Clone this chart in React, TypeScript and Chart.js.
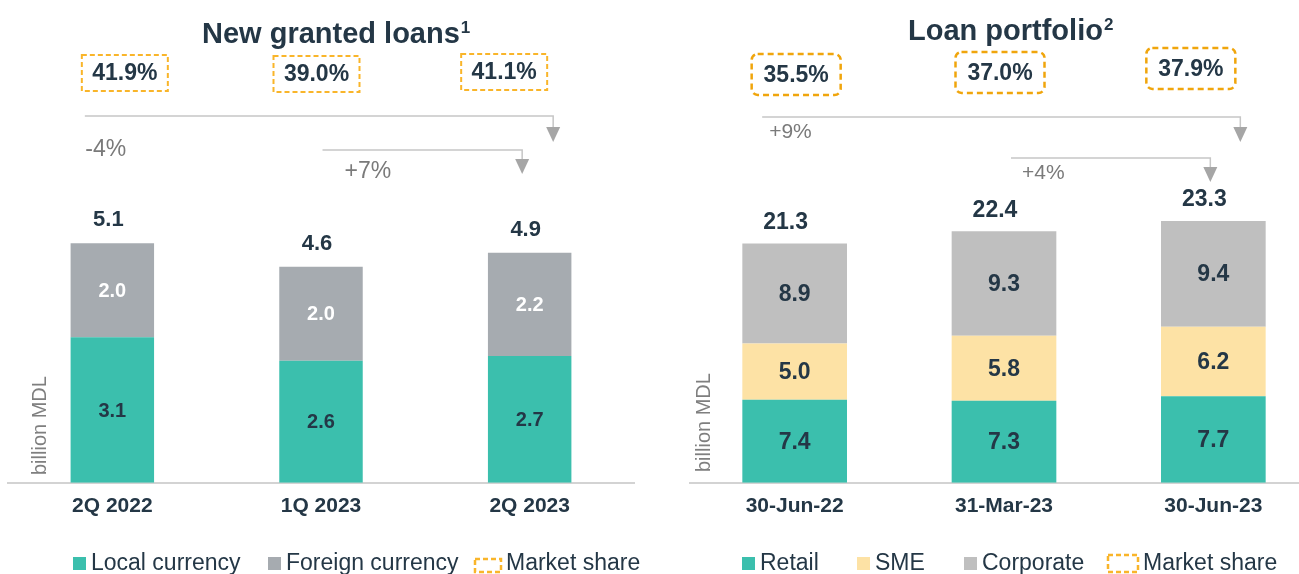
import React, { useEffect, useRef } from "react";
import { Chart, registerables } from "chart.js";

Chart.register(...registerables);

// ---------- DATA ----------
const newLoanCategories = ["2Q 2022", "1Q 2023", "2Q 2023"];
const localCurrency = [3.1, 2.6, 2.7];
const foreignCurrency = [2.0, 2.0, 2.2];
const newLoanTotals = [5.1, 4.6, 4.9];
const newLoanMarketShare = ["41.9%", "39.0%", "41.1%"];
const newLoanGrowth = ["-4%", "+7%"];

const portfolioCategories = ["30-Jun-22", "31-Mar-23", "30-Jun-23"];
const retail = [7.4, 7.3, 7.7];
const sme = [5.0, 5.8, 6.2];
const corporate = [8.9, 9.3, 9.4];
const portfolioTotals = [21.3, 22.4, 23.3];
const portfolioMarketShare = ["35.5%", "37.0%", "37.9%"];
const portfolioGrowth = ["+9%", "+4%"];

// ---------- STYLE ----------
const FONT = '"Liberation Sans", Arial, Helvetica, sans-serif';
const NAVY = "#243746";
const TEAL = "#3bbfad";
const FOREIGN_GRAY = "#a6abb0";
const CORP_GRAY = "#bfbfbf";
const SME_YELLOW = "#fde2a5";
const AXIS_GRAY = "#d3d3d3";
const ARROW_LINE = "#c6c6c6";
const ARROW_HEAD = "#a6a6a6";
const GROWTH_TEXT = "#7a7a7a";

type Spec = {
  left: number;
  width: number;
  padding: { top: number; left: number; right: number; bottom: number };
  yMax: number;
  barPct: number;
  categories: string[];
  series: { label: string; data: number[]; color: string; labelColor: string }[];
  totals: number[];
  totalGap: number;
  totalDx: number;
  totalFont: number;
  innerFont: number;
  title: string;
  sup: string;
  titleX: number;
  titleY: number;
  supY: number;
  share: string[];
  shareDx: number[];
  shareTop: number[];
  shareW: number;
  shareH: number;
  shareColor: string;
  shareRadius: number;
  shareDash: number[];
  shareLw: number;
  growth: string[];
  growthFont: number;
  arrows: { y: number; fromCat: number; fromDx: number; toCat: number; toDx: number; headBottom: number; textCat: number; textDx: number; textY: number }[];
  yTitleX: number;
  yTitleY: number;
  legend: { kind: "square" | "dash"; color: string; x: number; y: number; w: number; h: number; text: string }[];
};

function roundRectPath(ctx: CanvasRenderingContext2D, x: number, y: number, w: number, h: number, r: number) {
  ctx.beginPath();
  if (r <= 0) {
    ctx.rect(x, y, w, h);
    return;
  }
  ctx.moveTo(x + r, y);
  ctx.lineTo(x + w - r, y);
  ctx.arcTo(x + w, y, x + w, y + r, r);
  ctx.lineTo(x + w, y + h - r);
  ctx.arcTo(x + w, y + h, x + w - r, y + h, r);
  ctx.lineTo(x + r, y + h);
  ctx.arcTo(x, y + h, x, y + h - r, r);
  ctx.lineTo(x, y + r);
  ctx.arcTo(x, y, x + r, y, r);
  ctx.closePath();
}

function makeOverlay(spec: Spec) {
  return {
    id: "overlay",
    afterDatasetsDraw(chart: any) {
      const ctx: CanvasRenderingContext2D = chart.ctx;
      const xs = chart.scales.x;
      const cx = (i: number) => xs.getPixelForValue(i);
      ctx.save();

      // inner segment labels
      ctx.textAlign = "center";
      ctx.textBaseline = "middle";
      ctx.font = `bold ${spec.innerFont}px ${FONT}`;
      spec.series.forEach((s, d) => {
        const meta = chart.getDatasetMeta(d);
        meta.data.forEach((el: any, i: number) => {
          ctx.fillStyle = s.labelColor;
          ctx.fillText(s.data[i].toFixed(1), el.x, (el.y + el.base) / 2 + 1);
        });
      });

      // totals
      const topMeta = chart.getDatasetMeta(spec.series.length - 1);
      ctx.font = `bold ${spec.totalFont}px ${FONT}`;
      ctx.fillStyle = NAVY;
      topMeta.data.forEach((el: any, i: number) => {
        ctx.fillText(spec.totals[i].toFixed(1), el.x + spec.totalDx, el.y - spec.totalGap);
      });

      // title
      ctx.textAlign = "left";
      ctx.textBaseline = "alphabetic";
      ctx.font = `bold 29px ${FONT}`;
      ctx.fillStyle = NAVY;
      ctx.fillText(spec.title, spec.titleX, spec.titleY);
      const tw = ctx.measureText(spec.title).width;
      ctx.font = `bold 17px ${FONT}`;
      ctx.fillText(spec.sup, spec.titleX + tw + 1, spec.supY);

      // market share boxes
      spec.share.forEach((txt, i) => {
        const c = cx(i) + spec.shareDx[i];
        const x0 = c - spec.shareW / 2;
        const y0 = spec.shareTop[i];
        ctx.save();
        ctx.strokeStyle = spec.shareColor;
        ctx.lineWidth = spec.shareLw;
        ctx.setLineDash(spec.shareDash);
        roundRectPath(ctx, x0, y0, spec.shareW, spec.shareH, spec.shareRadius);
        ctx.stroke();
        ctx.restore();
        ctx.font = `bold 23px ${FONT}`;
        ctx.fillStyle = NAVY;
        ctx.textAlign = "center";
        ctx.textBaseline = "middle";
        ctx.fillText(txt, c, y0 + spec.shareH / 2 + 1);
      });

      // growth arrows
      spec.arrows.forEach((a, k) => {
        const x1 = cx(a.fromCat) + a.fromDx;
        const x2 = cx(a.toCat) + a.toDx;
        ctx.strokeStyle = ARROW_LINE;
        ctx.lineWidth = 1.5;
        ctx.beginPath();
        ctx.moveTo(x1, a.y);
        ctx.lineTo(x2, a.y);
        ctx.lineTo(x2, a.headBottom - 15);
        ctx.stroke();
        ctx.fillStyle = ARROW_HEAD;
        ctx.beginPath();
        ctx.moveTo(x2 - 7, a.headBottom - 15);
        ctx.lineTo(x2 + 7, a.headBottom - 15);
        ctx.lineTo(x2, a.headBottom);
        ctx.closePath();
        ctx.fill();
        ctx.font = `${spec.growthFont}px ${FONT}`;
        ctx.fillStyle = GROWTH_TEXT;
        ctx.textAlign = "left";
        ctx.textBaseline = "middle";
        ctx.fillText(spec.growth[k], cx(a.textCat) + a.textDx, a.textY);
      });

      // y title
      ctx.save();
      ctx.translate(spec.yTitleX, spec.yTitleY);
      ctx.rotate(-Math.PI / 2);
      ctx.font = `20px ${FONT}`;
      ctx.fillStyle = "#7f7f7f";
      ctx.textAlign = "left";
      ctx.textBaseline = "middle";
      ctx.fillText("billion MDL", 0, 0);
      ctx.restore();

      // legend
      spec.legend.forEach((it) => {
        if (it.kind === "square") {
          ctx.fillStyle = it.color;
          ctx.fillRect(it.x, it.y, it.w, it.h);
        } else {
          ctx.save();
          ctx.strokeStyle = it.color;
          ctx.lineWidth = 2.5;
          ctx.setLineDash([5, 3]);
          ctx.strokeRect(it.x, it.y, it.w, it.h);
          ctx.restore();
        }
        ctx.font = `23px ${FONT}`;
        ctx.fillStyle = NAVY;
        ctx.textAlign = "left";
        ctx.textBaseline = "alphabetic";
        ctx.fillText(it.text, it.x + it.w + 5, 570);
      });

      ctx.restore();
    },
  };
}

const leftSpec: Spec = {
  left: 0,
  width: 650,
  padding: { top: 201, left: 8, right: 16, bottom: 44 },
  yMax: 6,
  barPct: 0.4,
  categories: newLoanCategories,
  series: [
    { label: "Local currency", data: localCurrency, color: TEAL, labelColor: NAVY },
    { label: "Foreign currency", data: foreignCurrency, color: FOREIGN_GRAY, labelColor: "#ffffff" },
  ],
  totals: newLoanTotals,
  totalGap: 23,
  totalDx: -4,
  totalFont: 22,
  innerFont: 20,
  title: "New granted loans",
  sup: "1",
  titleX: 202,
  titleY: 43,
  supY: 33,
  share: newLoanMarketShare,
  shareDx: [12.5, -4.5, -25.5],
  shareTop: [55, 56, 54],
  shareW: 86,
  shareH: 36,
  shareColor: "#f9b52a",
  shareRadius: 0,
  shareDash: [5, 3],
  shareLw: 2,
  growth: newLoanGrowth,
  growthFont: 23,
  arrows: [
    { y: 116, fromCat: 0, fromDx: -27.5, toCat: 2, toDx: 23.5, headBottom: 142, textCat: 0, textDx: -27, textY: 150 },
    { y: 150, fromCat: 1, fromDx: 1.5, toCat: 2, toDx: -7.5, headBottom: 174, textCat: 1, textDx: 23.5, textY: 172 },
  ],
  yTitleX: 40,
  yTitleY: 475,
  legend: [
    { kind: "square", color: TEAL, x: 73, y: 557, w: 13, h: 13, text: "Local currency" },
    { kind: "square", color: FOREIGN_GRAY, x: 268, y: 557, w: 13, h: 13, text: "Foreign currency" },
    { kind: "dash", color: "#f9b52a", x: 475, y: 559, w: 26, h: 13, text: "Market share" },
  ],
};

const rightSpec: Spec = {
  left: 650,
  width: 680,
  padding: { top: 202, left: 40, right: 12, bottom: 44 },
  yMax: 25,
  barPct: 0.5,
  categories: portfolioCategories,
  series: [
    { label: "Retail", data: retail, color: TEAL, labelColor: NAVY },
    { label: "SME", data: sme, color: SME_YELLOW, labelColor: NAVY },
    { label: "Corporate", data: corporate, color: CORP_GRAY, labelColor: NAVY },
  ],
  totals: portfolioTotals,
  totalGap: 21,
  totalDx: -9,
  totalFont: 23,
  innerFont: 23,
  title: "Loan portfolio",
  sup: "2",
  titleX: 258,
  titleY: 40,
  supY: 30,
  share: portfolioMarketShare,
  shareDx: [1.5, -4, -22.5],
  shareTop: [54, 52, 48],
  shareW: 89,
  shareH: 41,
  shareColor: "#f0a50c",
  shareRadius: 6,
  shareDash: [6, 4],
  shareLw: 2.5,
  growth: portfolioGrowth,
  growthFont: 21,
  arrows: [
    { y: 117, fromCat: 0, fromDx: -32.5, toCat: 2, toDx: 27, headBottom: 142, textCat: 0, textDx: -25.5, textY: 132 },
    { y: 158, fromCat: 1, fromDx: 7, toCat: 2, toDx: -3, headBottom: 182, textCat: 1, textDx: 18, textY: 173 },
  ],
  yTitleX: 54,
  yTitleY: 472,
  legend: [
    { kind: "square", color: TEAL, x: 92, y: 557, w: 13, h: 13, text: "Retail" },
    { kind: "square", color: SME_YELLOW, x: 207, y: 557, w: 13, h: 13, text: "SME" },
    { kind: "square", color: CORP_GRAY, x: 314, y: 557, w: 13, h: 13, text: "Corporate" },
    { kind: "dash", color: "#f9b52a", x: 458, y: 555, w: 30, h: 17, text: "Market share" },
  ],
};

function StackedChart({ spec }: { spec: Spec }) {
  const ref = useRef<HTMLCanvasElement | null>(null);
  useEffect(() => {
    if (!ref.current) return;
    const chart = new Chart(ref.current, {
      type: "bar",
      data: {
        labels: spec.categories,
        datasets: spec.series.map((s) => ({
          label: s.label,
          data: s.data,
          backgroundColor: s.color,
          borderWidth: 0,
          barPercentage: spec.barPct,
          categoryPercentage: 1,
        })),
      },
      options: {
        responsive: false,
        animation: false,
        devicePixelRatio: 1,
        layout: { padding: spec.padding },
        plugins: { legend: { display: false }, tooltip: { enabled: false }, title: { display: false } },
        scales: {
          x: {
            stacked: true,
            grid: { display: false, drawTicks: false },
            border: { display: true, color: AXIS_GRAY, width: 2 },
            ticks: { color: NAVY, padding: 11, font: { family: FONT, size: 21, weight: "bold" } },
          },
          y: { stacked: true, display: false, min: 0, max: spec.yMax },
        },
      },
      plugins: [makeOverlay(spec)],
    } as any);
    return () => chart.destroy();
  }, [spec]);
  return (
    <canvas
      ref={ref}
      width={spec.width}
      height={574}
      style={{ position: "absolute", left: spec.left, top: 0, width: spec.width, height: 574 }}
    />
  );
}

export default function App() {
  return (
    <div
      style={{
        position: "absolute",
        left: 0,
        top: 0,
        width: 1299,
        height: 574,
        overflow: "hidden",
        background: "#ffffff",
      }}
    >
      <StackedChart spec={rightSpec} />
      <StackedChart spec={leftSpec} />
    </div>
  );
}
